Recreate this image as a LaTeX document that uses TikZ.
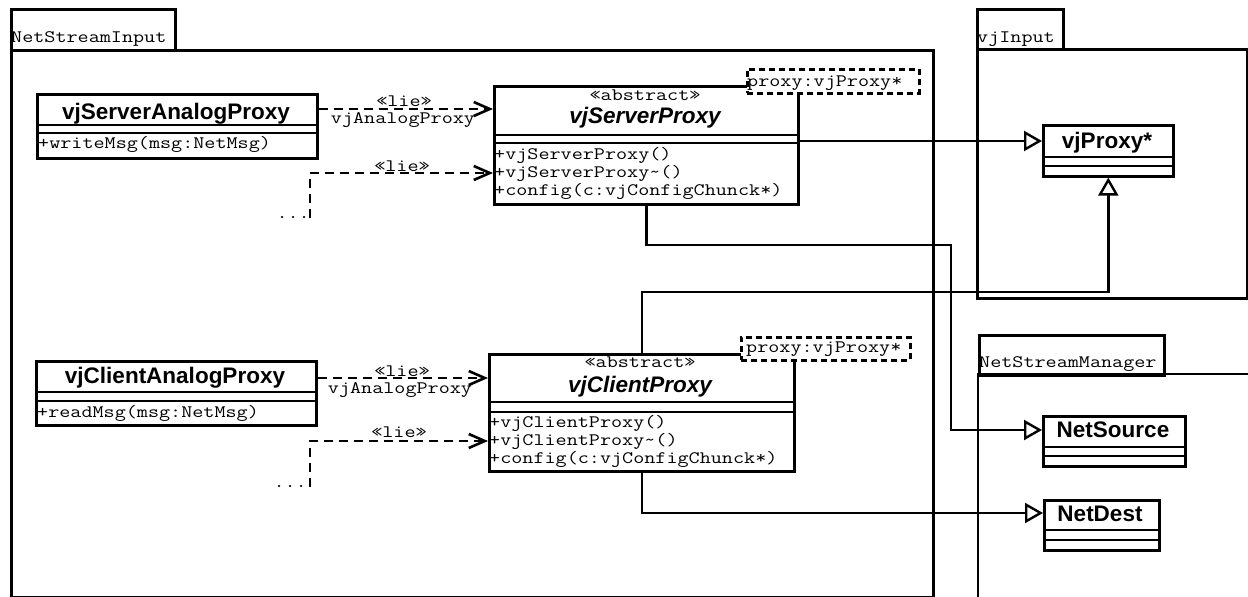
\documentclass[tikz,border=0pt]{standalone}
\usepackage{fontspec}
\usepackage{graphicx}
\setmainfont{Liberation Sans}
\usetikzlibrary{arrows.meta}
\newcommand\mt[1]{\scalebox{1.23}[1]{#1}}
\tikzset{
 ln/.style={line width=2.6pt},
 box/.style={draw, line width=2.6pt, fill=white, inner sep=0pt, anchor=north west},
 tmpl/.style={draw, line width=2.6pt, dash pattern=on 6pt off 4pt, fill=white, inner sep=0pt, anchor=north west},
 mono/.style={font=\ttfamily\fontsize{17.5}{17}\selectfont, inner sep=0pt},
 cname/.style={font=\bfseries\fontsize{22.5}{22}\selectfont, inner sep=0pt, anchor=base},
 cnamei/.style={font=\bfseries\itshape\fontsize{22.5}{22}\selectfont, inner sep=0pt, anchor=base},
 dep/.style={line width=2.6pt, dash pattern=on 9pt off 6pt, -{Straight Barb[length=16pt,width=14pt]}},
 gen/.style={line width=2.4pt, -{Triangle[open,length=18pt,width=20pt]}},
}
\begin{document}
\begin{tikzpicture}[x=1pt,y=-1pt]
\useasboundingbox (0,0) rectangle (1248,597);
% packages
\node[box, minimum width=164pt, minimum height=41pt] (nsiTab) at (10,8) {};
\node[box, minimum width=922pt, minimum height=547pt] (nsiBody) at (10,49) {};
\node[mono, anchor=base west] (nsiLbl) at (11,42) {\mt{NetStreamInput}};
\node[box, minimum width=86pt, minimum height=40pt] (vjiTab) at (976,8) {};
\node[box, minimum width=270pt, minimum height=249pt] (vjiBody) at (976,48) {};
\node[mono, anchor=base west] (vjiLbl) at (977,42) {\mt{vjInput}};
\node[box, minimum width=185pt, minimum height=40pt] (nsmTab) at (978,334) {};
\draw[ln] (978,600) -- (978,374) -- (1250,374);
\node[mono, anchor=base west] (nsmLbl) at (979,367) {\mt{NetStreamManager}};

% classes
\node[box, minimum width=280pt, minimum height=64pt] (sap) at (36,93) {};
\draw[ln] (sap.west |- 0,125) -- (sap.east |- 0,125) (sap.west |- 0,133) -- (sap.east |- 0,133);
\node[cname] (sapN) at (176,119) {vjServerAnalogProxy};
\node[mono, anchor=base west] (sapO) at (38,148) {\mt{+writeMsg(msg:NetMsg)}};

\node[box, minimum width=304pt, minimum height=118pt] (sp) at (493,85) {};
\draw[ln] (sp.west |- 0,135) -- (sp.east |- 0,135) (sp.west |- 0,143) -- (sp.east |- 0,143);
\node[mono, anchor=base] (spS) at (645,100) {\mt{«abstract»}};
\node[cnamei] (spN) at (645,123) {vjServerProxy};
\node[mono, anchor=base west] (spO1) at (494,159) {\mt{+vjServerProxy()}};
\node[mono, anchor=base west] (spO2) at (494,177) {\mt{+vjServerProxy\textasciitilde()}};
\node[mono, anchor=base west] (spO3) at (494,195) {\mt{+config(c:vjConfigChunck*)}};
\node[tmpl, minimum width=172pt, minimum height=24pt] (spT) at (746,68) {};
\node[mono, anchor=base west] (spTt) at (747,86) {\mt{proxy:vjProxy*}};

\node[box, minimum width=130pt, minimum height=51pt] (vjp) at (1042,124) {};
\draw[ln] (vjp.west |- 0,157) -- (vjp.east |- 0,157) (vjp.west |- 0,166) -- (vjp.east |- 0,166);
\node[cname] (vjpN) at (1107,148) {vjProxy*};

\node[box, minimum width=280pt, minimum height=64pt] (cap) at (35,360) {};
\draw[ln] (cap.west |- 0,392) -- (cap.east |- 0,392) (cap.west |- 0,401) -- (cap.east |- 0,401);
\node[cname] (capN) at (175,383) {vjClientAnalogProxy};
\node[mono, anchor=base west] (capO) at (37,417) {\mt{+readMsg(msg:NetMsg)}};

\node[box, minimum width=305pt, minimum height=117pt] (cp) at (488,353) {};
\draw[ln] (cp.west |- 0,402) -- (cp.east |- 0,402) (cp.west |- 0,412) -- (cp.east |- 0,412);
\node[mono, anchor=base] (cpS) at (640,367) {\mt{«abstract»}};
\node[cnamei] (cpN) at (640,392) {vjClientProxy};
\node[mono, anchor=base west] (cpO1) at (489,427) {\mt{+vjClientProxy()}};
\node[mono, anchor=base west] (cpO2) at (489,445) {\mt{+vjClientProxy\textasciitilde()}};
\node[mono, anchor=base west] (cpO3) at (489,463) {\mt{+config(c:vjConfigChunck*)}};
\node[tmpl, minimum width=169pt, minimum height=23pt] (cpT) at (740,336) {};
\node[mono, anchor=base west] (cpTt) at (746,352) {\mt{proxy:vjProxy*}};

\node[box, minimum width=142pt, minimum height=50pt] (ns) at (1042,415) {};
\draw[ln] (ns.west |- 0,447) -- (ns.east |- 0,447) (ns.west |- 0,456) -- (ns.east |- 0,456);
\node[cname] (nsN) at (1113,437) {NetSource};

\node[box, minimum width=115pt, minimum height=50pt] (nd) at (1043,499) {};
\draw[ln] (nd.west |- 0,530) -- (nd.east |- 0,530) (nd.west |- 0,540) -- (nd.east |- 0,540);
\node[cname] (ndN) at (1100,521) {NetDest};

% connectors
\draw[dep] (sap.east |- 0,109) -- (sp.west |- 0,109);
\node[mono, anchor=base] (l1) at (404,106) {\mt{«lie»}};
\node[mono, anchor=base] (l1b) at (403,123) {\mt{vjAnalogProxy}};
\coordinate (sdots) at (310,218);
\draw[dep] (sdots) |- (sp.west |- 0,173);
\node[mono, anchor=base] (l2) at (402,171) {\mt{«lie»}};
\node[mono, anchor=base east] (d1) at (310,218) {\mt{...}};

\draw[dep] (cap.east |- 0,378) -- (cp.west |- 0,378);
\node[mono, anchor=base] (l3) at (402,376) {\mt{«lie»}};
\node[mono, anchor=base] (l3b) at (400,393) {\mt{vjAnalogProxy}};
\coordinate (cdots) at (310,487);
\draw[dep] (cdots) |- (cp.west |- 0,441);
\node[mono, anchor=base] (l4) at (399,437) {\mt{«lie»}};
\node[mono, anchor=base east] (d2) at (307,487) {\mt{...}};

\draw[gen] (sp.east |- 0,141) -- (vjp.west |- 0,141);
\draw[gen] (sp.south) |- (951,245) |- (ns.west |- 0,430);
\draw[gen] (cp.north) |- (vjp.south |- 0,292) -- (vjp.south);
\draw[gen] (cp.south) |- (nd.west |- 0,513);
\end{tikzpicture}
\end{document}
